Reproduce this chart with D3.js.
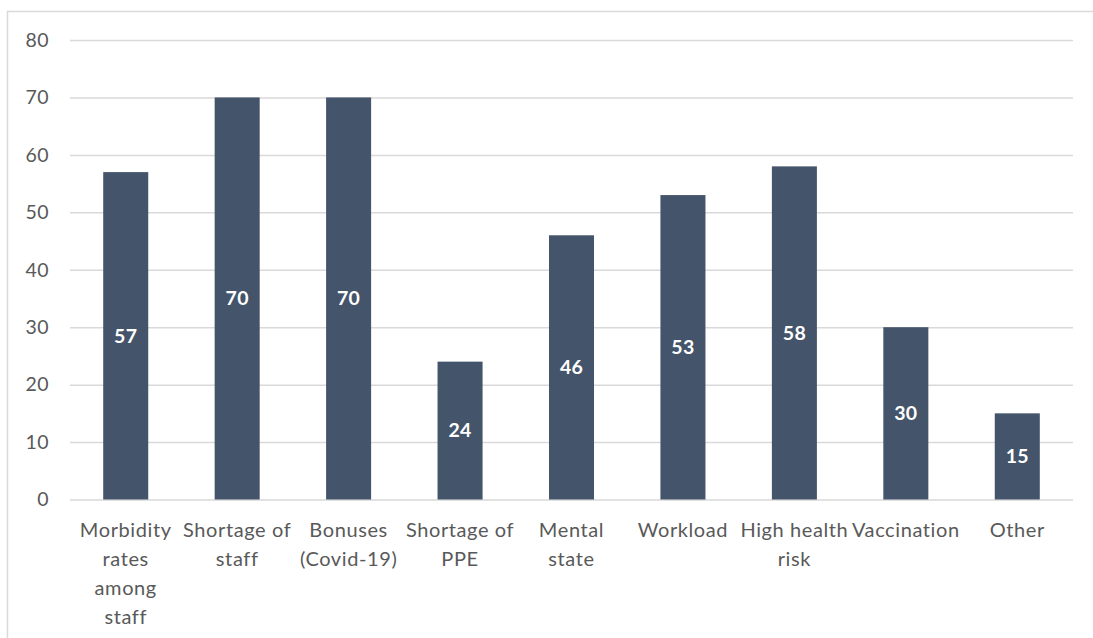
<!DOCTYPE html>
<html>
<head>
<meta charset="utf-8">
<script src="https://cdn.jsdelivr.net/npm/d3@7"></script>
<style>
  html, body { margin: 0; padding: 0; background: #ffffff; }
  svg { display: block; }
  text { font-family: Lato, "Open Sans", sans-serif; }
</style>
</head>
<body>
<svg id="chart" width="1093" height="638"></svg>
<script>
// Category labels (line breaks mark where the axis label wraps)
const categories = [
  "Morbidity\nrates\namong\nstaff",
  "Shortage of\nstaff",
  "Bonuses\n(Covid-19)",
  "Shortage of\nPPE",
  "Mental\nstate",
  "Workload",
  "High health\nrisk",
  "Vaccination",
  "Other"
];
const values = [57, 70, 70, 24, 46, 53, 58, 30, 15];
const yTicks = [0, 10, 20, 30, 40, 50, 60, 70, 80];

const svg = d3.select("#chart");
const W = 1093, H = 638;

// Outer frame of the chart area
svg.append("rect")
  .attr("x", 7.5).attr("y", 11.5)
  .attr("width", W + 10).attr("height", H + 10)
  .attr("fill", "#ffffff")
  .attr("stroke", "#d9d9d9")
  .attr("stroke-width", 1.5);

const plot = { left: 70, right: 1073, top: 40, bottom: 499.5 };

const x = d3.scaleBand()
  .domain(d3.range(categories.length))
  .range([plot.left, plot.right])
  .paddingInner(0.596)
  .paddingOuter(0.298);

const y = d3.scaleLinear()
  .domain([0, 80])
  .range([plot.bottom, plot.top]);

// Horizontal gridlines and y tick labels
const yAxis = d3.axisLeft(y)
  .tickValues(yTicks)
  .tickSize(-(plot.right - plot.left))
  .tickPadding(21);

const gy = svg.append("g")
  .attr("transform", `translate(${plot.left},0)`)
  .call(yAxis);
gy.select(".domain").remove();
gy.selectAll(".tick line")
  .attr("stroke", "#d9d9d9")
  .attr("stroke-width", 1.5);
gy.selectAll(".tick text")
  .attr("fill", "#595959")
  .style("font-size", "19.5px")
  .style("letter-spacing", "0.4px")
  .style("font-family", "Lato, 'Open Sans', sans-serif");

// Bars
svg.append("g")
  .selectAll("rect")
  .data(values)
  .join("rect")
  .attr("x", (d, i) => x(i))
  .attr("width", x.bandwidth())
  .attr("y", d => y(d))
  .attr("height", d => y(0) - y(d))
  .attr("fill", "#44546a");

// Value labels centred in each bar
svg.append("g")
  .selectAll("text")
  .data(values)
  .join("text")
  .attr("x", (d, i) => x(i) + x.bandwidth() / 2)
  .attr("y", d => (y(d) + y(0)) / 2)
  .attr("dy", "0.35em")
  .attr("text-anchor", "middle")
  .attr("fill", "#ffffff")
  .style("font-size", "19.5px")
  .style("letter-spacing", "0.3px")
  .style("font-weight", "bold")
  .text(d => d);

// Category axis labels (wrapped)
const xAxis = d3.axisBottom(x)
  .tickSize(0)
  .tickPadding(0)
  .tickFormat("");
const gx = svg.append("g")
  .attr("transform", `translate(0,${plot.bottom})`)
  .call(xAxis);
gx.select(".domain").remove();

gx.selectAll(".tick").each(function(i) {
  const lines = categories[i].split("\n");
  const t = d3.select(this).append("text")
    .attr("text-anchor", "middle")
    .attr("fill", "#595959")
    .style("font-size", "20px")
    .style("letter-spacing", "0.6px");
  lines.forEach((ln, k) => {
    t.append("tspan")
      .attr("x", 0)
      .attr("y", 37 + k * 29)
      .text(ln);
  });
});
</script>
</body>
</html>
